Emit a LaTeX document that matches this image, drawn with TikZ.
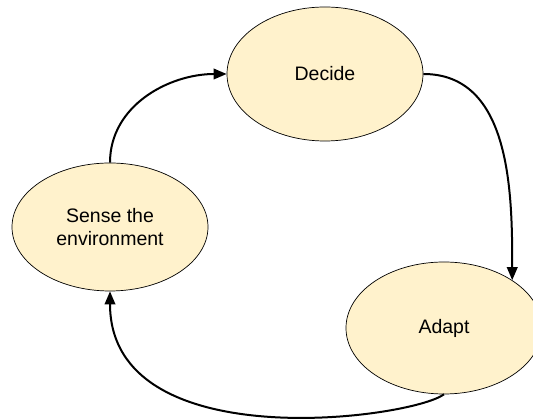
\documentclass[tikz,border=0pt]{standalone}
\usepackage{fontspec}
\setmainfont{Liberation Sans}
\usetikzlibrary{shapes.geometric,arrows.meta}

\definecolor{stagefill}{HTML}{FFF2CC}

\begin{document}
\begin{tikzpicture}[x=1pt,y=1pt,
  stage/.style={ellipse, draw=black, line width=0.7pt, fill=stagefill,
    inner sep=0pt, align=center, font=\fontsize{19.5}{23.5}\selectfont},
  flow/.style={line width=2pt, -{Triangle[length=13pt,width=10.5pt]}}]

\useasboundingbox (0,0) rectangle (533,419);

% Stages
\node[stage, minimum width=196pt, minimum height=134pt] (decide) at (325,345) {Decide};
\node[stage, minimum width=196pt, minimum height=128pt] (sense) at (110,192) {Sense the\\environment};
\node[stage, minimum width=196pt, minimum height=132pt] (adapt) at (444,91) {Adapt};

% Loop
\draw[flow] (sense.north) to[out=90,in=180] (decide.west);
\draw[flow] (decide.east) to[out=0,in=90] (adapt.35);
\draw[flow] (adapt.south) .. controls (410,0) and (110,-40) .. (sense.south);

\end{tikzpicture}
\end{document}
